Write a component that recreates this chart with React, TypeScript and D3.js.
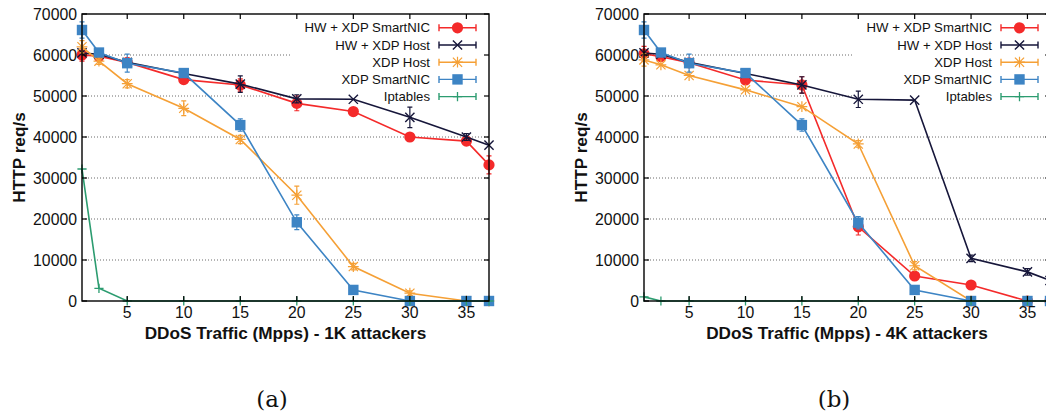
import React from "react";
import * as d3 from "d3";

// ---------- data ----------
const xValues = [1, 2.5, 5, 10, 15, 20, 25, 30, 35, 37];
const xTicks = [5, 10, 15, 20, 25, 30, 35];
const yTicks = [0, 10000, 20000, 30000, 40000, 50000, 60000, 70000];
const seriesNames = ["HW + XDP SmartNIC", "HW + XDP Host", "XDP Host", "XDP SmartNIC", "Iptables"];

// panel (a) - 1K attackers
const hwSmartNicA = [60000, 59700, 58200, 54000, 52700, 48200, 46200, 40000, 39000, 33200];
const hwHostA = [60500, 60200, 58200, 55500, 52900, 49300, 49200, 44800, 40000, 38000];
const xdpHostA = [62000, 58500, 53000, 47000, 39400, 25800, 8400, 1900, 0, 0];
const xdpSmartNicA = [66100, 60600, 58000, 55600, 42900, 19200, 2700, 0, 0, 0];
const iptablesA = [32200, 3100, 0, 0, 0, 0, 0, 0, 0, 0];

const hwSmartNicErrA = [1500, 0, 800, 800, 1500, 1800, 0, 0, 0, 2200];
const hwHostErrA = [0, 0, 0, 0, 2000, 1000, 0, 2500, 800, 0];
const xdpHostErrA = [1500, 800, 1000, 1800, 1000, 2200, 800, 600, 0, 0];
const xdpSmartNicErrA = [2000, 0, 2200, 0, 1500, 1800, 0, 0, 0, 0];
const iptablesErrA = [0, 0, 0, 0, 0, 0, 0, 0, 0, 0];

// panel (b) - 4K attackers
const hwSmartNicB = [60300, 59600, 58100, 53900, 52700, 18100, 6100, 3900, 0, 0];
const hwHostB = [60500, 60200, 58200, 55500, 52700, 49200, 49000, 10400, 7100, 5000];
const xdpHostB = [58800, 57600, 55000, 51500, 47400, 38300, 8600, 0, 0, 0];
const xdpSmartNicB = [66100, 60600, 58000, 55600, 42900, 19100, 2700, 0, 0, 0];
const iptablesB = [1000, 0, 0, 0, 0, 0, 0, 0, 0, 0];

const hwSmartNicErrB = [1800, 0, 0, 0, 2000, 2000, 0, 0, 0, 0];
const hwHostErrB = [0, 0, 0, 0, 2000, 2000, 0, 800, 800, 0];
const xdpHostErrB = [1500, 0, 0, 0, 0, 800, 1000, 0, 0, 0];
const xdpSmartNicErrB = [2000, 0, 2200, 0, 1500, 1500, 0, 0, 0, 0];
const iptablesErrB = [0, 0, 0, 0, 0, 0, 0, 0, 0, 0];

const colors = ["#f42a2a", "#16163a", "#f5a036", "#3d84c4", "#2c9c70"];
const shapes = ["circle", "x", "star", "square", "plus"];

type Panel = {
  left: number; right: number; top: number; bottom: number;
  xLabel: string; caption: string; captionX: number;
  values: number[][]; errors: number[][];
  legendRight: number; legendBoxLeft: number;
};

const panels: Panel[] = [
  {
    left: 82, right: 489, top: 14, bottom: 301,
    xLabel: "DDoS Traffic (Mpps) - 1K attackers", caption: "(a)", captionX: 272,
    values: [hwSmartNicA, hwHostA, xdpHostA, xdpSmartNicA, iptablesA],
    errors: [hwSmartNicErrA, hwHostErrA, xdpHostErrA, xdpSmartNicErrA, iptablesErrA],
    legendRight: 430, legendBoxLeft: 292,
  },
  {
    left: 644, right: 1050, top: 14, bottom: 301,
    xLabel: "DDoS Traffic (Mpps) - 4K attackers", caption: "(b)", captionX: 834,
    values: [hwSmartNicB, hwHostB, xdpHostB, xdpSmartNicB, iptablesB],
    errors: [hwSmartNicErrB, hwHostErrB, xdpHostErrB, xdpSmartNicErrB, iptablesErrB],
    legendRight: 992, legendBoxLeft: 853,
  },
];

const FONT = "'Liberation Sans', Arial, Helvetica, sans-serif";

function Marker({ shape, x, y, color }: { shape: string; x: number; y: number; color: string }) {
  const s = 4.6;
  if (shape === "circle") return <circle cx={x} cy={y} r={5.6} fill={color} />;
  if (shape === "square") return <rect x={x - 5.2} y={y - 5.2} width={10.4} height={10.4} fill={color} />;
  if (shape === "x")
    return (
      <path d={`M${x - s},${y - s}L${x + s},${y + s}M${x - s},${y + s}L${x + s},${y - s}`} stroke={color} strokeWidth={1.4} fill="none" />
    );
  if (shape === "star")
    return (
      <path
        d={`M${x - s},${y - s}L${x + s},${y + s}M${x - s},${y + s}L${x + s},${y - s}M${x},${y - s - 0.8}L${x},${y + s + 0.8}M${x - s - 0.8},${y}L${x + s + 0.8},${y}`}
        stroke={color} strokeWidth={1.2} fill="none"
      />
    );
  return (
    <path d={`M${x},${y - s}L${x},${y + s}M${x - s},${y}L${x + s},${y}`} stroke={color} strokeWidth={1.3} fill="none" />
  );
}

function PanelView({ p }: { p: Panel }) {
  const x = d3.scaleLinear().domain([1, 37]).range([p.left, p.right]);
  const y = d3.scaleLinear().domain([0, 70000]).range([p.bottom, p.top]);
  const line = d3.line<number>().x((_, i) => x(xValues[i])).y((v) => y(v));
  const tick = 5;
  const rowH = 17.2;
  const legendTop = 27.8;
  return (
    <g>
      {/* grid */}
      {yTicks.filter((t) => t > 0 && t < 70000).map((t) => (
        <line key={"g" + t} x1={p.left} x2={p.right} y1={y(t)} y2={y(t)} stroke="#444" strokeWidth={0.8} strokeDasharray="1,2" />
      ))}
      {/* legend opaque box */}
      <rect x={p.legendBoxLeft} y={18} width={p.right - p.legendBoxLeft} height={86} fill="white" />
      {/* series */}
      {p.values.map((vals, si) => (
        <g key={"s" + si}>
          <path d={line(vals) || ""} fill="none" stroke={colors[si]} strokeWidth={1.6} />
          {vals.map((v, i) => {
            const e = p.errors[si][i];
            if (!e) return null;
            const cx = x(xValues[i]);
            const y1 = y(Math.max(0, v - e));
            const y2 = y(v + e);
            return (
              <path key={"e" + i} d={`M${cx},${y1}L${cx},${y2}M${cx - 2.5},${y1}L${cx + 2.5},${y1}M${cx - 2.5},${y2}L${cx + 2.5},${y2}`}
                stroke={colors[si]} strokeWidth={1.2} fill="none" />
            );
          })}
          {vals.map((v, i) => (
            <Marker key={"m" + i} shape={shapes[si]} x={x(xValues[i])} y={y(v)} color={colors[si]} />
          ))}
        </g>
      ))}
      {/* legend */}
      {seriesNames.map((name, si) => {
        const ly = legendTop + si * rowH;
        const x1 = p.legendRight + 9;
        const x2 = p.legendRight + 46;
        return (
          <g key={"l" + si}>
            <text x={p.legendRight} y={ly} dy="0.35em" textAnchor="end" fontFamily={FONT} fontSize={13.2} fill="#111">{name}</text>
            <path d={`M${x1},${ly}L${x2},${ly}M${x1},${ly - 3.5}L${x1},${ly + 3.5}M${x2},${ly - 3.5}L${x2},${ly + 3.5}`} stroke={colors[si]} strokeWidth={1.4} fill="none" />
            <Marker shape={shapes[si]} x={(x1 + x2) / 2} y={ly} color={colors[si]} />
          </g>
        );
      })}
      {/* frame */}
      <rect x={p.left} y={p.top} width={p.right - p.left} height={p.bottom - p.top} fill="none" stroke="#000" strokeWidth={1.4} />
      {/* y ticks */}
      {yTicks.map((t) => (
        <g key={"y" + t}>
          <line x1={p.left} x2={p.left + tick} y1={y(t)} y2={y(t)} stroke="#000" strokeWidth={1.2} />
          <line x1={p.right} x2={p.right - tick} y1={y(t)} y2={y(t)} stroke="#000" strokeWidth={1.2} />
          <text x={p.left - 5} y={y(t)} dy="0.36em" textAnchor="end" fontFamily={FONT} fontSize={15.8} fill="#111">{t}</text>
        </g>
      ))}
      {/* x ticks */}
      {xTicks.map((t) => (
        <g key={"x" + t}>
          <line x1={x(t)} x2={x(t)} y1={p.bottom} y2={p.bottom - tick} stroke="#000" strokeWidth={1.2} />
          <line x1={x(t)} x2={x(t)} y1={p.top} y2={p.top + tick} stroke="#000" strokeWidth={1.2} />
          <text x={x(t)} y={p.bottom + 17} textAnchor="middle" fontFamily={FONT} fontSize={15.8} fill="#111">{t}</text>
        </g>
      ))}
      {/* axis labels */}
      <text x={(p.left + p.right) / 2} y={339} textAnchor="middle" fontFamily={FONT} fontWeight="bold" fontSize={17.2} fill="#111">{p.xLabel}</text>
      <text transform={`translate(${p.left - 57},${(p.top + p.bottom) / 2}) rotate(-90)`} textAnchor="middle" fontFamily={FONT} fontWeight="bold" fontSize={17.2} fill="#111">HTTP req/s</text>
      <text x={p.captionX} y={407} textAnchor="middle" fontFamily="'DejaVu Serif', serif" fontSize={23} fill="#111">{p.caption}</text>
    </g>
  );
}

export default function App() {
  return (
    <svg width={1046} height={414} style={{ position: "absolute", left: 0, top: 0, background: "white" }}>
      <rect width={1046} height={414} fill="white" />
      {panels.map((p, i) => (
        <PanelView key={i} p={p} />
      ))}
    </svg>
  );
}
